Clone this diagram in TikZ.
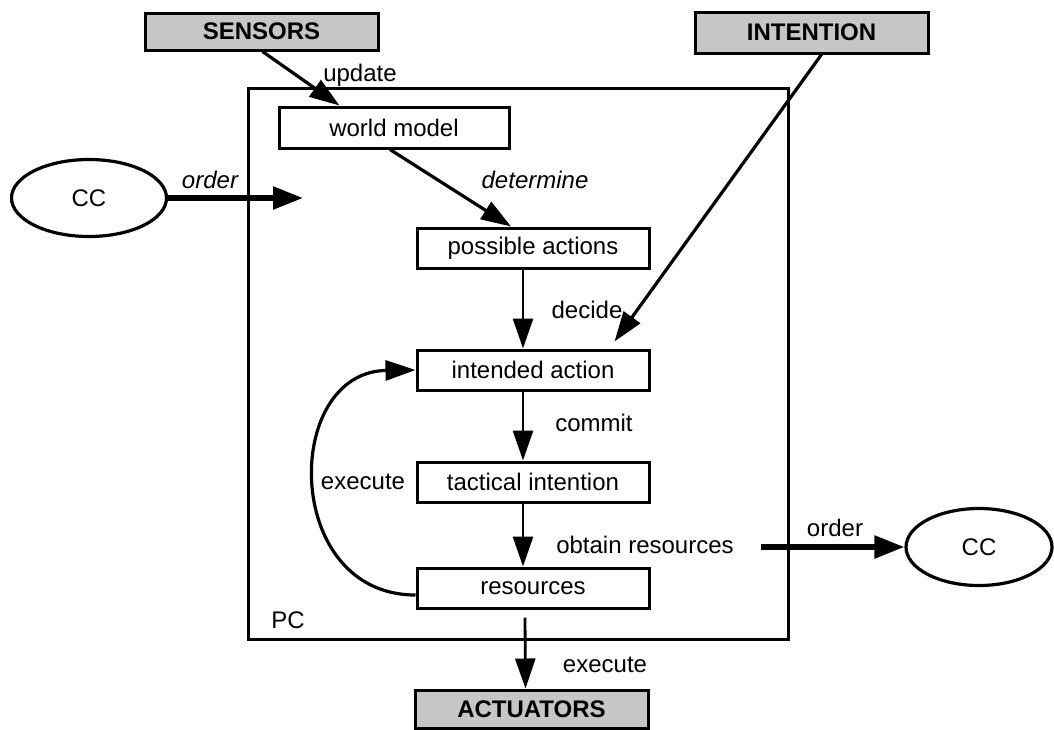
\documentclass[tikz,border=0pt]{standalone}
\usepackage{fontspec}
\setmainfont{Liberation Sans}
\usetikzlibrary{arrows.meta,shapes.geometric,calc}
\newcommand\dgfont{\fontsize{24}{28}\selectfont}
\tikzset{
  box/.style={draw, line width=3pt, minimum width=232pt, minimum height=40pt,
              inner sep=0pt, font=\dgfont},
  extbox/.style={box, fill=gray!45, font=\dgfont\bfseries},
  agent/.style={draw, ellipse, line width=3.2pt, inner sep=0pt, font=\dgfont},
  frame/.style={draw, line width=3pt, inner sep=0pt},
  lab/.style={font=\dgfont, inner sep=0pt},
  ilab/.style={font=\dgfont\itshape, inner sep=0pt},
  flow/.style={line width=2.8pt, -{Triangle[length=30pt,width=20pt]}},
  slant/.style={line width=3.2pt, -{Triangle[length=30pt,width=20pt]}},
  msg/.style={line width=5.5pt, -{Triangle[length=30pt,width=22pt]}},
}
\begin{document}
\begin{tikzpicture}[x=1pt,y=-1pt]
\useasboundingbox (0,0) rectangle (1054,729);

% PC frame
\node[frame, minimum width=540pt, minimum height=551pt] (pc) at (518,363.5) {};
\node[lab] (pclabel) at (288,620) {PC};

% external sources and sinks
\node[extbox, minimum width=233pt, minimum height=37pt] (sens) at (261.5,31.5) {SENSORS};
\node[extbox, minimum width=233pt, minimum height=41pt] (intn) at (811.5,32.5) {INTENTION};
\node[extbox, minimum width=233pt, minimum height=38pt] (act) at (531.5,709) {ACTUATORS};

% internal stages
\node[box, minimum width=230pt, minimum height=41pt] (wm) at (394,127.5) {world model};
\node[box] (pa) at (533,248) {possible actions};
\node[box] (ia) at (533,370) {intended action};
\node[box] (ti) at (533,482) {tactical intention};
\node[box] (res) at (533,588) {resources};

% commanding agents
\node[agent, minimum width=155pt, minimum height=77pt] (ccL) at (89,198) {CC};
\node[agent, minimum width=146pt, minimum height=77pt] (ccR) at (979,547) {CC};
\coordinate (ordIn) at (303,198);
\coordinate (ordOut) at (761,547);

% connectors
\draw[slant] ([xshift=1pt]sens.south) -- ($(wm.north west)!0.266!(wm.north east)$);
\draw[slant] ([xshift=-4pt]wm.south) -- ([xshift=-22pt]pa.north);
\draw[flow] ([xshift=-10pt]pa.south) -- ([xshift=-10pt]ia.north);
\draw[slant] ([xshift=10pt]intn.south) -- ([xshift=-36pt,yshift=7pt]ia.north east);
\draw[flow] ([xshift=-10pt]ia.south) -- ([xshift=-10pt]ti.north);
\draw[flow] ([xshift=-10pt]ti.south) -- ([xshift=-10pt]res.north);
\draw[flow] ([xshift=-8pt,yshift=-8pt]res.south) -- ([xshift=-6pt]act.north);
\draw[slant] ([yshift=-7pt]res.west) .. controls (282,595) and (282,372) .. (ia.west);
\draw[msg] (ccL.east) -- (ordIn);
\draw[msg] (ordOut) -- (ccR.west);

% labels
\node[lab] (lupd) at (360,75) {update};
\node[ilab] (lordL) at (210,180) {order};
\node[ilab] (ldet) at (535,180) {determine};
\node[lab] (ldec) at (587,310) {decide};
\node[lab] (lcom) at (594,423) {commit};
\node[lab] (lexL) at (363,482) {execute};
\node[lab] (lobt) at (645,545) {obtain resources};
\node[lab] (lordR) at (835,528) {order};
\node[lab] (lexB) at (605,665) {execute};
\end{tikzpicture}
\end{document}
